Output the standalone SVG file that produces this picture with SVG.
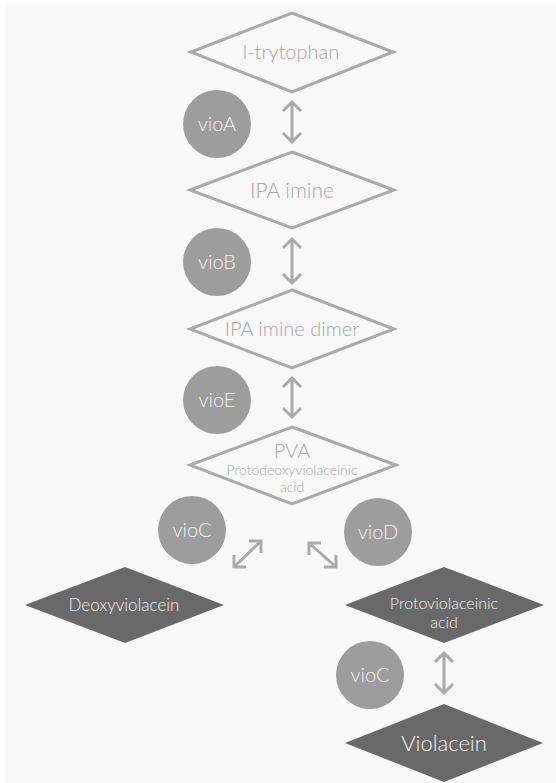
<svg xmlns="http://www.w3.org/2000/svg" width="556" height="783" viewBox="0 0 556 783">
<style>
.bg{fill:#f8f8f8}
.od{fill:#f8f8f8;stroke:#aaaaaa;stroke-width:3}
.dd{fill:#696969}
.cir{fill:#9d9d9d}
.t{font-family:Lato,"Liberation Sans",sans-serif;text-anchor:middle;font-weight:300}
.to{fill:#a6a6a6}
.tw{fill:#f2f2f2}
.arr{fill:none;stroke:#aaaaaa;stroke-width:3;stroke-linecap:butt;stroke-linejoin:miter}
</style>
<rect width="556" height="783" fill="#ffffff"/>
<rect class="bg" x="5" y="5" width="551" height="778"/>
<g id="connectors">
<path class="arr" d="M292 103 V141 M283 111 L292 102 L301 111 M283 133 L292 142 L301 133"/>
<path class="arr" d="M292 240 V282 M283 248 L292 239 L301 248 M283 274 L292 283 L301 274"/>
<path class="arr" d="M292 379 V416 M283 387 L292 378 L301 387 M283 408 L292 417 L301 408"/>
<path class="arr" d="M234 567 L261 541 M234 555 L234 567 L246 567 M249 541 L261 541 L261 553"/>
<path class="arr" d="M309 543 L336 567 M309 555 L309 543 L321 543 M324 567 L336 567 L336 555"/>
<path class="arr" d="M444 654 V692 M435 662 L444 653 L453 662 M435 684 L444 693 L453 684"/>
</g>
<g id="ltrytophan">
<polygon class="od" points="292,13 393,52 292,92 191,52"/>
<text class="t to" x="291" y="59" font-size="20">l-trytophan</text>
</g>
<g id="vioA">
<circle class="cir" cx="217" cy="124" r="34"/>
<text class="t tw" x="217" y="131" font-size="20">vioA</text>
</g>
<g id="ipaimine">
<polygon class="od" points="292,152 394,190 292,228 190,190"/>
<text class="t to" x="292" y="198" font-size="21">IPA imine</text>
</g>
<g id="vioB">
<circle class="cir" cx="217" cy="262" r="34"/>
<text class="t tw" x="217" y="269" font-size="20">vioB</text>
</g>
<g id="ipaiminedimer">
<polygon class="od" points="292,290 394,329 292,368 190,329"/>
<text class="t to" x="292" y="336" font-size="20">IPA imine dimer</text>
</g>
<g id="vioE">
<circle class="cir" cx="217" cy="400" r="34"/>
<text class="t tw" x="217" y="407" font-size="20">vioE</text>
</g>
<g id="pva">
<polygon class="od" points="292,427 396,465 292,504 190,465"/>
<text class="t to" x="292" y="458" font-size="20">PVA</text>
<text class="t to" x="292" y="475" font-size="14">Protodeoxyviolaceinic</text>
<text class="t to" x="292" y="492" font-size="14">acid</text>
</g>
<g id="vioC1">
<circle class="cir" cx="192" cy="530" r="34"/>
<text class="t tw" x="192" y="537" font-size="20">vioC</text>
</g>
<g id="vioD">
<circle class="cir" cx="378" cy="532" r="34"/>
<text class="t tw" x="378" y="539" font-size="20">vioD</text>
</g>
<g id="deoxyviolacein">
<polygon class="dd" points="125,567 224,605 125,643 25,605"/>
<text class="t tw" x="124" y="611" font-size="17">Deoxyviolacein</text>
</g>
<g id="protoviolaceinic">
<polygon class="dd" points="444,567 544,605 444,643 345,605"/>
<text class="t tw" x="444" y="609" font-size="16">Protoviolaceinic</text>
<text class="t tw" x="444" y="628" font-size="16">acid</text>
</g>
<g id="vioC2">
<circle class="cir" cx="370" cy="675" r="34"/>
<text class="t tw" x="370" y="682" font-size="20">vioC</text>
</g>
<g id="violacein">
<polygon class="dd" points="444,704 543,743 444,782 345,743"/>
<text class="t tw" x="444" y="751" font-size="22">Violacein</text>
</g>
</svg>
